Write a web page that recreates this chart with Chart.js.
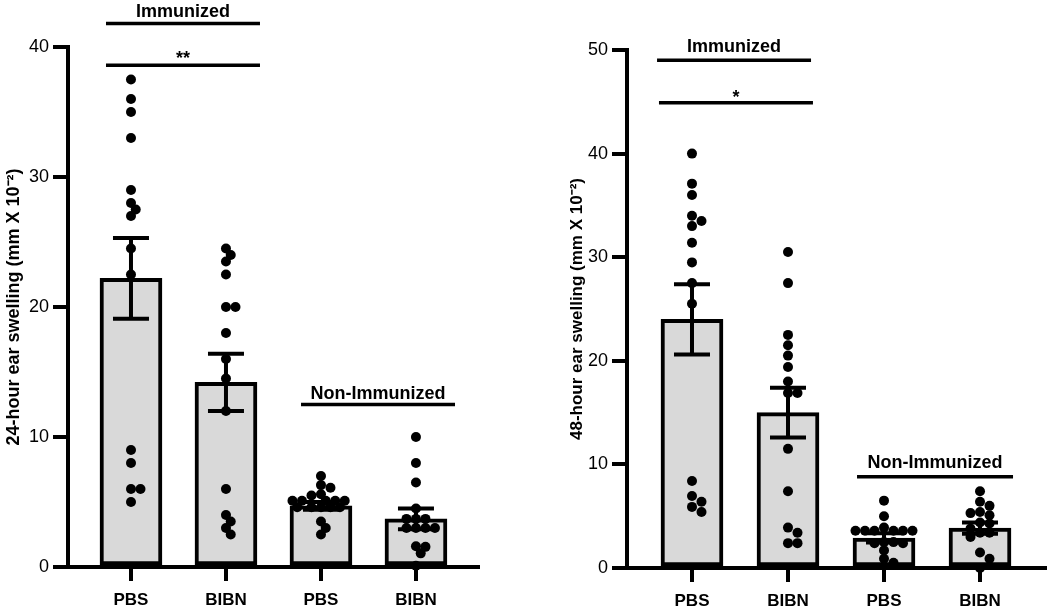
<!DOCTYPE html>
<html><head><meta charset="utf-8">
<script src="https://cdn.jsdelivr.net/npm/chart.js@4.4.0/dist/chart.umd.min.js"></script>
<style>
html,body{margin:0;padding:0;background:#fff;width:1050px;height:610px;overflow:hidden}
canvas{position:absolute;top:0}
#c1{left:0}#c2{left:525px}
</style></head>
<body>
<canvas id="c1" width="525" height="610"></canvas>
<canvas id="c2" width="525" height="610"></canvas>
<script>
// ---------- data ----------
const categories = ['PBS', 'BIBN', 'PBS', 'BIBN'];

// 24-hour ear swelling (mm x 10^-2)
const h24_PBS_imm  = [37.5, 36, 35, 33, 29, 28, 27.5, 27, 24.5, 22.5, 9, 8, 6, 6, 5];
const h24_BIBN_imm = [24.5, 24, 23.5, 22.5, 20, 20, 18, 16, 14.5, 12, 6, 4, 3.5, 3, 2.5];
const h24_PBS_non  = [7.0, 6.3, 6.1, 5.6, 5.5, 5.1, 5.1, 5.1, 5.1, 5.1, 4.6, 4.6, 4.6, 4.6, 4.6, 3.5, 3.0, 2.5];
const h24_BIBN_non = [10, 8, 6.5, 4.5, 3.7, 3.7, 3.7, 3.0, 3.0, 3.0, 3.0, 1.6, 1.55, 1.05, 0.1];
const h24_mean = [22.2, 14.2, 4.7, 3.7];
const h24_sem  = [3.1, 2.2, 0.3, 0.8];
const h24_ticks = [0, 10, 20, 30, 40];

// 48-hour ear swelling (mm x 10^-2)
const h48_PBS_imm  = [40, 37.1, 36, 34, 33.5, 33, 31.4, 29.5, 27.5, 25.5, 8.4, 6.95, 6.4, 5.9, 5.4];
const h48_BIBN_imm = [30.5, 27.5, 22.5, 21.5, 20.5, 19.4, 18, 16.9, 16.9, 11.5, 7.4, 3.9, 3.4, 2.4, 2.4];
const h48_PBS_non  = [6.5, 5.0, 3.9, 3.6, 3.6, 3.6, 3.6, 3.6, 3.6, 2.5, 2.4, 2.4, 2.5, 1.7, 0.9, 0.5];
const h48_BIBN_non = [7.4, 6.4, 6.0, 5.4, 5.3, 5.1, 4.4, 4.3, 3.8, 3.4, 3.4, 3.0, 1.5, 0.9, 0.0];
const h48_mean = [24.0, 15.0, 2.9, 3.85];
const h48_sem  = [3.4, 2.4, 0.45, 0.55];
const h48_ticks = [0, 10, 20, 30, 40, 50];

// ---------- rendering ----------
const FONT = "'Liberation Sans', Arial, Helvetica, sans-serif";
Chart.defaults.font.family = FONT;
Chart.defaults.color = '#000';

const errorBarPlugin = {
  id: 'errorBars',
  afterDatasetDraw(chart, args, opts) {
    if (args.index !== 0) return;
    const {ctx, scales: {x, y}} = chart;
    ctx.save();
    ctx.strokeStyle = '#000';
    ctx.lineWidth = 4;
    ctx.lineCap = 'butt';
    opts.mean.forEach((m, i) => {
      const px = x.getPixelForValue(i);
      const top = y.getPixelForValue(m + opts.sem[i]);
      const bot = y.getPixelForValue(m - opts.sem[i]);
      ctx.beginPath();
      ctx.moveTo(px, top); ctx.lineTo(px, bot);
      ctx.moveTo(px - 18, top); ctx.lineTo(px + 18, top);
      ctx.moveTo(px - 18, bot); ctx.lineTo(px + 18, bot);
      ctx.stroke();
    });
    ctx.restore();
  }
};

const bracketPlugin = {
  id: 'brackets',
  afterDraw(chart, args, opts) {
    const {ctx, scales: {x, y}} = chart;
    ctx.save();
    ctx.strokeStyle = '#000';
    ctx.fillStyle = '#000';
    ctx.lineWidth = 3.5;
    ctx.textAlign = 'center';
    ctx.textBaseline = 'alphabetic';
    opts.items.forEach(it => {
      const x0 = x.getPixelForValue(it.x0), x1 = x.getPixelForValue(it.x1);
      const py = y.getPixelForValue(it.y);
      ctx.beginPath(); ctx.moveTo(x0, py); ctx.lineTo(x1, py); ctx.stroke();
      ctx.font = 'bold ' + it.size + 'px ' + FONT;
      ctx.fillText(it.text, (x0 + x1) / 2, py - it.gap);
    });
    ctx.restore();
  }
};

function makeChart(id, o) {
  const groups = o.groups;
  return new Chart(document.getElementById(id), {
    type: 'bar',
    data: {
      datasets: [
        {
          type: 'bar',
          data: o.mean.map((m, i) => ({x: i, y: m})),
          backgroundColor: '#d9d9d9',
          borderColor: '#000',
          borderWidth: 4,
          borderSkipped: false,
          barThickness: 62,
          order: 2
        },
        {
          type: 'scatter',
          data: groups.flatMap((g, i) => g.map(v => ({x: i, y: v}))),
          backgroundColor: '#000',
          borderColor: '#000',
          borderWidth: 0,
          pointRadius: 5,
          clip: false,
          order: 1
        }
      ]
    },
    options: {
      responsive: false,
      animation: false,
      events: [],
      layout: {padding: o.padding},
      plugins: {
        legend: {display: false},
        tooltip: {enabled: false},
        errorBars: {mean: o.mean, sem: o.sem},
        brackets: {items: o.brackets}
      },
      scales: {
        x: {
          type: 'linear',
          min: o.xMin, max: o.xMax,
          offset: false,
          afterBuildTicks: s => { s.ticks = categories.map((c, i) => ({value: i})); },
          afterFit: s => { s.height = o.xHeight; },
          ticks: {
            autoSkip: false, maxRotation: 0, padding: 9,
            font: {size: 17, weight: 'bold'},
            callback: (v, i) => categories[i]
          },
          grid: {display: true, offset: false, drawOnChartArea: false, drawTicks: true,
                 tickLength: 14, lineWidth: 4, color: '#000'},
          border: {display: true, width: 4, color: '#000'}
        },
        y: {
          type: 'linear',
          min: o.ticks[0], max: o.ticks[o.ticks.length - 1],
          afterBuildTicks: s => { s.ticks = o.ticks.map(v => ({value: v})); },
          afterFit: s => { s.width = o.yWidth; },
          ticks: {padding: 4, font: {size: 18}},
          grid: {display: true, drawOnChartArea: false, drawTicks: true,
                 tickLength: 15, lineWidth: 4, color: '#000'},
          border: {display: true, width: 4, color: '#000'},
          title: {display: true, text: o.title, font: {size: o.titleSize, weight: o.titleWeight},
                  padding: {top: o.titlePad, bottom: 0}}
        }
      }
    },
    plugins: [errorBarPlugin, bracketPlugin]
  });
}

// spread points of each group horizontally so they do not pile up (computed from the data through the scales)
function swarm(chart, groups) {
  const xs = chart.scales.x, ys = chart.scales.y;
  const unit = xs.getPixelForValue(1) - xs.getPixelForValue(0);
  const step = 4.75, minDist = 8;
  const pts = [];
  groups.forEach((g, i) => {
    const placed = [];
    [...g].sort((a, b) => b - a).forEach(v => {
      const py = ys.getPixelForValue(v);
      for (let k = 0; k < 40; k++) {
        const off = k === 0 ? 0 : (k % 2 ? 1 : -1) * Math.ceil(k / 2) * step;
        if (placed.every(p => Math.hypot(p.dx - off, p.py - py) >= minDist)) {
          placed.push({dx: off, py});
          pts.push({x: i + off / unit, y: v});
          break;
        }
      }
    });
  });
  chart.data.datasets[1].data = pts;
  chart.update('none');
}

const g24 = [h24_PBS_imm, h24_BIBN_imm, h24_PBS_non, h24_BIBN_non];
const g48 = [h48_PBS_imm, h48_BIBN_imm, h48_PBS_non, h48_BIBN_non];

const c24 = makeChart('c1', {
  groups: g24, mean: h24_mean, sem: h24_sem, ticks: h24_ticks,
  title: '24-hour ear swelling (mm X 10\u207B\u00B2)', titleSize: 18, titleWeight: 'bold', titlePad: 3,
  padding: {left: 0, top: 47, right: 47, bottom: 0},
  xMin: -0.663, xMax: 3.653, xHeight: 43, yWidth: 68,
  brackets: [
    {x0: -0.263, x1: 1.358, y: 41.8, text: 'Immunized', size: 18, gap: 7},
    {x0: -0.263, x1: 1.358, y: 38.6, text: '**', size: 18, gap: 1},
    {x0: 1.79, x1: 3.411, y: 12.5, text: 'Non-Immunized', size: 18, gap: 6}
  ]
});
const c48 = makeChart('c2', {
  groups: g48, mean: h48_mean, sem: h48_sem, ticks: h48_ticks,
  title: '48-hour ear swelling (mm X 10\u207B\u00B2)', titleSize: 17, titleWeight: 'bold', titlePad: 42,
  padding: {left: 0, top: 50, right: 5, bottom: 0},
  xMin: -0.677, xMax: 3.677, xHeight: 42, yWidth: 102,
  brackets: [
    {x0: -0.364, x1: 1.24, y: 49.0, text: 'Immunized', size: 18, gap: 8},
    {x0: -0.344, x1: 1.26, y: 44.9, text: '*', size: 18, gap: 0},
    {x0: 1.719, x1: 3.344, y: 8.8, text: 'Non-Immunized', size: 18, gap: 9}
  ]
});
swarm(c24, g24);
swarm(c48, g48);
</script>
</body></html>
